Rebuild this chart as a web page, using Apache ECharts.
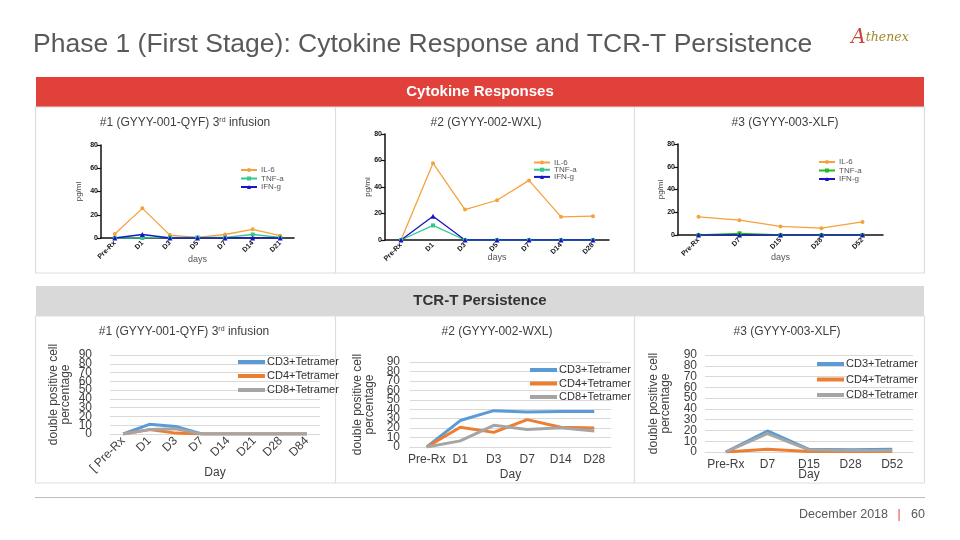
<!DOCTYPE html>
<html><head><meta charset="utf-8">
<script src="https://cdn.jsdelivr.net/npm/echarts@6/dist/echarts.min.js"></script>
<style>html,body{margin:0;padding:0;background:#fff}#c{width:960px;height:540px}</style>
</head><body><div id="c"></div>
<script>
// ---- Cytokine responses (pg/ml) ----
const cytoDays1 = ['Pre-Rx','D1','D3','D5','D7','D14','D21'];
const il6_1 = [3.5, 25.5, 2.5, 0.5, 3, 7.5, 2];
const tnf_1 = [0, 0, 0.5, 0.5, 0.5, 3, 0.5];
const ifn_1 = [0, 3, 0, 0, 0, 0, 0];

const cytoDays2 = ['Pre-Rx','D1','D3','D5','D7','D14','D28'];
const il6_2 = [0, 58, 23, 30, 45, 17.5, 18];
const tnf_2 = [0, 11, 0, 0, 0, 0, 0];
const ifn_2 = [0, 18, 0, 0, 0, 0, 0];

const cytoDays3 = ['Pre-Rx','D7','D15','D28','D52'];
const il6_3 = [16, 13, 7.5, 6, 11.5];
const tnf_3 = [0, 1.5, 0, 0, 0];
const ifn_3 = [0, 0, 0, 0, 0];

const cytoTicks = [0, 20, 40, 60, 80];

// ---- TCR-T persistence (double positive cell percentage) ----
const tcrDays1 = ['[ Pre-Rx','D1','D3','D7','D14','D21','D28','D84'];
const cd3_1 = [0, 11, 8.5, 0, 0, 0, 0, 0];
const cd4_1 = [0, 5, 1, 0, 0, 0, 0, 0];
const cd8_1 = [0, 5, 6, 0, 0, 0, 0, 0];

const tcrDays2 = ['Pre-Rx','D1','D3','D7','D14','D28'];
const cd3_2 = [0, 28, 38.5, 37, 37.5, 37.5];
const cd4_2 = [0, 21, 15.5, 29, 21, 20];
const cd8_2 = [0, 6.5, 23, 18.5, 20.5, 17];

const tcrDays3 = ['Pre-Rx','D7','D15','D28','D52'];
const cd3_3 = [0, 19.5, 2.5, 2, 2.5];
const cd4_3 = [0, 2.5, 0.5, 0.5, 0.5];
const cd8_3 = [0, 17, 2, 1.5, 1.5];

const tcrTicks = [0, 10, 20, 30, 40, 50, 60, 70, 80, 90];

const FONT = 'Liberation Sans';
const chart = echarts.init(document.getElementById('c'));

function gpX(i, cats, gap) {
  return {type:'category', gridIndex:i, data:cats, boundaryGap:true,
    axisLine:{lineStyle:{color:'#111', width:1.5}},
    axisTick:{alignWithLabel:true, length:4, lineStyle:{color:'#111', width:1.2}},
    axisLabel:{rotate:45, fontSize:7, fontWeight:'bold', color:'#111', margin:4, interval:0, hideOverlap:false, fontFamily:FONT},
    name:'days', nameLocation:'middle', nameGap:gap, nameMoveOverlap:false,
    nameTextStyle:{fontSize:9, color:'#555', fontFamily:FONT}};
}
function gpY(i, gap) {
  return {type:'value', gridIndex:i, min:cytoTicks[0], max:cytoTicks[cytoTicks.length-1], interval:cytoTicks[1]-cytoTicks[0],
    axisLine:{show:true, lineStyle:{color:'#111', width:1.5}},
    axisTick:{show:true, length:4, lineStyle:{color:'#111', width:1.2}},
    axisLabel:{fontSize:7, fontWeight:'bold', color:'#111', margin:3, showMinLabel:true, showMaxLabel:true, hideOverlap:false, fontFamily:FONT},
    splitLine:{show:false},
    name:'pg/ml', nameLocation:'middle', nameGap:gap, nameMoveOverlap:false,
    nameTextStyle:{fontSize:8, color:'#444', fontFamily:FONT}};
}
function xlX(i, cats, rot, gap) {
  return {type:'category', gridIndex:i, data:cats, boundaryGap:true,
    axisLine:{lineStyle:{color:'#d9d9d9', width:1}},
    axisTick:{show:false},
    axisLabel:{rotate:rot, fontSize:12, color:'#404040', margin:rot ? 5 : 7, interval:0, hideOverlap:false, fontFamily:FONT},
    name:'Day', nameLocation:'middle', nameGap:gap, nameMoveOverlap:false,
    nameTextStyle:{fontSize:12, color:'#404040', fontFamily:FONT}};
}
// value axis that positions the data and draws the gridlines
function xlY(i, gap) {
  return {type:'value', gridIndex:i, min:tcrTicks[0], max:tcrTicks[tcrTicks.length-1], interval:tcrTicks[1]-tcrTicks[0],
    position:'left', axisLine:{show:false}, axisTick:{show:false}, axisLabel:{show:false},
    splitLine:{lineStyle:{color:'#d9d9d9', width:1}},
    name:'double positive cell\npercentage', nameLocation:'middle', nameGap:gap, nameMoveOverlap:false,
    nameTextStyle:{fontSize:12, lineHeight:12, color:'#404040', fontFamily:FONT, align:'center'}};
}
// companion axis that prints every tick label of the same 0-90 scale (none hidden)
function xlYLabels(i, margin) {
  return {type:'category', gridIndex:i, data:tcrTicks.map(String), boundaryGap:false, position:'left',
    axisLine:{show:false}, axisTick:{show:false}, splitLine:{show:false},
    axisLabel:{interval:0, fontSize:12, color:'#404040', margin:margin, hideOverlap:false, fontFamily:FONT}};
}
function gpS(i, name, data, color, symbol, size) {
  return {type:'line', name:name, xAxisIndex:i, yAxisIndex:i, data:data, symbol:symbol, symbolSize:size,
    lineStyle:{color:color, width:1.3}, itemStyle:{color:color}, animation:false, z:3};
}
function xlS(i, name, data, color) {
  return {type:'line', name:name, xAxisIndex:i, yAxisIndex:i, data:data, symbol:'none', showSymbol:false,
    lineStyle:{color:color, width:3}, itemStyle:{color:color}, animation:false};
}
function gpL(left, top, names, h) {
  return {left:left, top:top, orient:'vertical', data:names, itemWidth:16, itemHeight:5, itemGap:h-8,
    selectedMode:false, formatter:n => n.trim(),
    textStyle:{fontSize:8, lineHeight:8, color:'#555', fontFamily:FONT, padding:[0,0,0,-1]}};
}
function xlL(left, top, gap) {
  return {left:left, top:top, orient:'vertical', data:['CD3+Tetramer','CD4+Tetramer','CD8+Tetramer'],
    icon:'rect', itemWidth:27, itemHeight:4, itemGap:gap, selectedMode:false,
    textStyle:{fontSize:11, lineHeight:13, color:'#333', fontFamily:FONT, padding:[0,0,0,-3]}};
}

const C_IL6 = '#f5a23c', C_TNF = '#32c98c', C_TNF3 = '#22bb22', C_IFN = '#1616c8';
const C_CD3 = '#5b9bd5', C_CD4 = '#ed7d31', C_CD8 = '#a5a5a5';

function txt(x, y, text, size, color, extra) {
  return Object.assign({type:'text', x:x, y:y, z:10, silent:true,
    style:Object.assign({text:text, fontSize:size, fontFamily:FONT, fill:color,
      align:'center', verticalAlign:'middle', textAlign:'center', textVerticalAlign:'middle'}, extra || {})});
}
const supRich = {sup:{fontSize:7, verticalAlign:'top', fontFamily:FONT, fill:'#404040'}};

const option = {
  animation:false,
  textStyle:{fontFamily:FONT},
  grid:[
    {left:101, top:145, width:193, height:93, outerBoundsMode:'none'},
    {left:385, top:134, width:224, height:106, outerBoundsMode:'none'},
    {left:678, top:144, width:205, height:91, outerBoundsMode:'none'},
    {left:110, top:355, width:210, height:79, outerBoundsMode:'none'},
    {left:410, top:362, width:201, height:85, outerBoundsMode:'none'},
    {left:705, top:355, width:208, height:97, outerBoundsMode:'none'}
  ],
  xAxis:[
    gpX(0, cytoDays1, 17), gpX(1, cytoDays2, 13), gpX(2, cytoDays3, 18),
    xlX(3, tcrDays1, 45, 33), xlX(4, tcrDays2, 0, 22), xlX(5, tcrDays3, 0, 17)
  ],
  yAxis:[
    gpY(0, 18), gpY(1, 13), gpY(2, 13),
    xlY(3, 38), xlY(4, 34), xlY(5, 33),
    xlYLabels(3, 18), xlYLabels(4, 10), xlYLabels(5, 8)
  ],
  legend:[
    gpL(235, 161, ['IL-6','TNF-a','IFN-g'], 8.5),
    gpL(528, 153.5, ['IL-6','TNF-a','IFN-g'], 7.2),
    gpL(813, 153, ['IL-6','TNF-a ','IFN-g'], 8.5),
    xlL(233, 350.5, 1),
    xlL(525, 358.5, 0.5),
    xlL(812, 352.5, 2.5)
  ],
  series:[
    gpS(0, 'IL-6', il6_1, C_IL6, 'circle', 4),
    gpS(0, 'TNF-a', tnf_1, C_TNF, 'rect', 4),
    gpS(0, 'IFN-g', ifn_1, C_IFN, 'triangle', 5),
    gpS(1, 'IL-6', il6_2, C_IL6, 'circle', 4),
    gpS(1, 'TNF-a', tnf_2, C_TNF, 'rect', 4),
    gpS(1, 'IFN-g', ifn_2, C_IFN, 'triangle', 5),
    gpS(2, 'IL-6', il6_3, C_IL6, 'circle', 4),
    gpS(2, 'TNF-a ', tnf_3, C_TNF3, 'rect', 4),
    gpS(2, 'IFN-g', ifn_3, C_IFN, 'triangle', 5),
    xlS(3, 'CD3+Tetramer', cd3_1, C_CD3),
    xlS(3, 'CD4+Tetramer', cd4_1, C_CD4),
    xlS(3, 'CD8+Tetramer', cd8_1, C_CD8),
    xlS(4, 'CD3+Tetramer', cd3_2, C_CD3),
    xlS(4, 'CD4+Tetramer', cd4_2, C_CD4),
    xlS(4, 'CD8+Tetramer', cd8_2, C_CD8),
    xlS(5, 'CD3+Tetramer', cd3_3, C_CD3),
    xlS(5, 'CD4+Tetramer', cd4_3, C_CD4),
    xlS(5, 'CD8+Tetramer', cd8_3, C_CD8)
  ],
  graphic:[
    // panels
    {type:'rect', z:-10, silent:true, shape:{x:36, y:77, width:888, height:30}, style:{fill:'#e2403a'}},
    {type:'rect', z:-10, silent:true, shape:{x:35.5, y:107, width:889, height:166}, style:{fill:'#fff', stroke:'#dedede', lineWidth:1.2}},
    {type:'line', z:-9, silent:true, shape:{x1:335.5, y1:107, x2:335.5, y2:273}, style:{stroke:'#dedede', lineWidth:1.2}},
    {type:'line', z:-9, silent:true, shape:{x1:634.5, y1:107, x2:634.5, y2:273}, style:{stroke:'#dedede', lineWidth:1.2}},
    {type:'rect', z:-10, silent:true, shape:{x:36, y:286, width:888, height:30}, style:{fill:'#d9d9da'}},
    {type:'rect', z:-10, silent:true, shape:{x:35.5, y:316, width:889, height:167}, style:{fill:'#fff', stroke:'#dedede', lineWidth:1.2}},
    {type:'line', z:-9, silent:true, shape:{x1:335.5, y1:316, x2:335.5, y2:483}, style:{stroke:'#dedede', lineWidth:1.2}},
    {type:'line', z:-9, silent:true, shape:{x1:634.5, y1:316, x2:634.5, y2:483}, style:{stroke:'#dedede', lineWidth:1.2}},
    {type:'line', z:-9, silent:true, shape:{x1:35, y1:497.5, x2:925, y2:497.5}, style:{stroke:'#bdbdbd', lineWidth:1.2}},
    // title
    txt(33, 45, 'Phase 1 (First Stage): Cytokine Response and TCR-T Persistence', 26.5, '#58595b', {align:'left', textAlign:'left'}),
    // logo
    {type:'text', x:880, y:38, z:10, silent:true, style:{text:'{a|A}{b|thenex}', align:'center', verticalAlign:'middle', textAlign:'center', textVerticalAlign:'middle',
      rich:{a:{fontSize:20, fontStyle:'italic', fontFamily:'DejaVu Serif', fill:'#c8433a'}, b:{fontSize:12.5, fontStyle:'italic', fontFamily:'DejaVu Serif', fill:'#a08a2a'}}}},
    // section headers
    txt(480, 92, 'Cytokine Responses', 15, '#ffffff', {fontWeight:'bold'}),
    txt(480, 301, 'TCR-T Persistence', 15, '#333333', {fontWeight:'bold'}),
    // sub titles
    txt(185, 123, '#1 (GYYY-001-QYF) 3{sup|rd} infusion', 12, '#404040', {rich:supRich}),
    txt(486, 123, '#2 (GYYY-002-WXL)', 12, '#404040'),
    txt(785, 123, '#3 (GYYY-003-XLF)', 12, '#404040'),
    txt(184, 332, '#1 (GYYY-001-QYF) 3{sup|rd} infusion', 12, '#404040', {rich:supRich}),
    txt(497, 332, '#2 (GYYY-002-WXL)', 12, '#404040'),
    txt(787, 332, '#3 (GYYY-003-XLF)', 12, '#404040'),
    // footer
    txt(888, 515, 'December 2018', 12.5, '#595959', {align:'right', textAlign:'right'}),
    txt(899, 515, '|', 12, '#e2403a'),
    txt(911, 515, '60', 12.5, '#595959', {align:'left', textAlign:'left'})
  ]
};
chart.setOption(option);
</script></body></html>
